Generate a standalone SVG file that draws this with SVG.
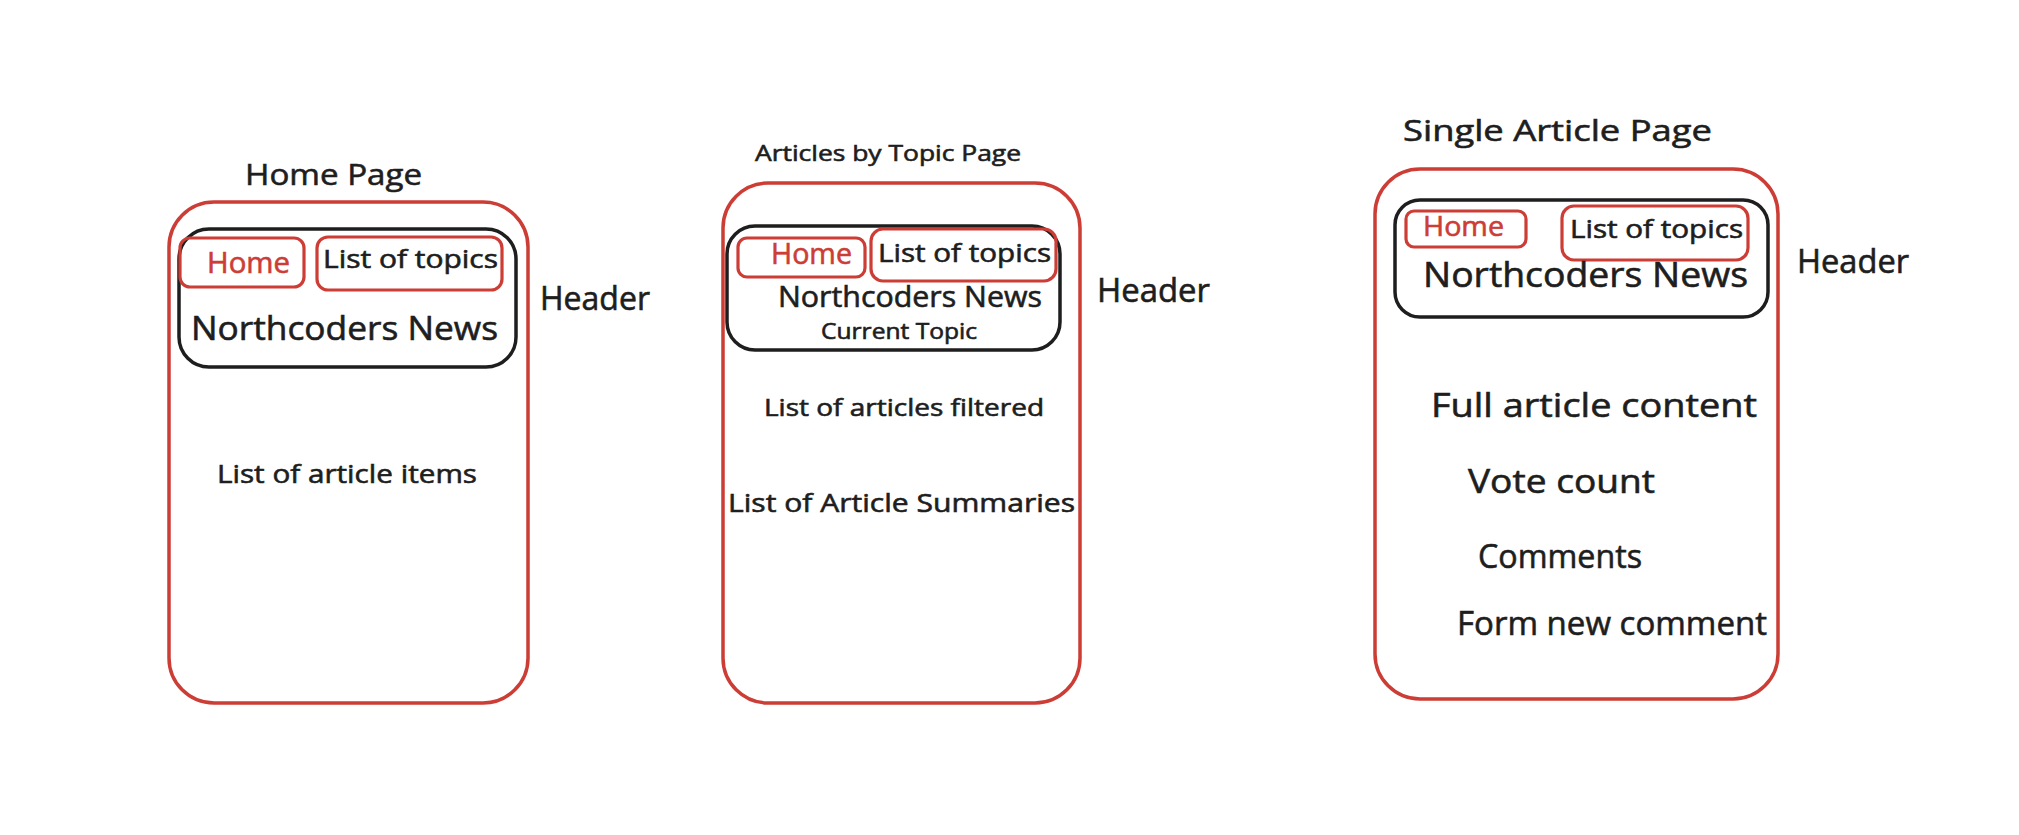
<svg xmlns="http://www.w3.org/2000/svg" width="2019" height="835" viewBox="0 0 2019 835">
  <style>
    .frame { fill: none; stroke: #cc3d36; stroke-width: 3.5; stroke-linejoin: round; }
    .header { fill: none; stroke: #1e1e1e; stroke-width: 3.5; stroke-linejoin: round; }
    .btn { fill: none; stroke: #cc3d36; stroke-width: 3.2; stroke-linejoin: round; }
    text { font-family: "Open Sans", "Liberation Sans", sans-serif; fill: #1e1e1e; stroke: #1e1e1e; stroke-width: 0.6; }
    .red { fill: #cc3d36; stroke: #cc3d36; }
  </style>
  <rect width="2019" height="835" fill="#ffffff"/>

  <!-- Home page wireframe -->
  <g id="home-page">
    <text x="245" y="185" font-size="30" textLength="177" lengthAdjust="spacingAndGlyphs">Home Page</text>
    <rect class="frame" x="169" y="202" width="359" height="501" rx="45"/>
    <g id="home-page-header">
      <rect class="header" x="179" y="229" width="337" height="138" rx="30"/>
      <rect class="btn" x="180" y="238" width="124" height="49" rx="10"/>
      <text class="red" x="207" y="273" font-size="29" textLength="83" lengthAdjust="spacingAndGlyphs">Home</text>
      <rect class="btn" x="317" y="237" width="185" height="53" rx="11"/>
      <text x="323" y="268" font-size="25" textLength="175" lengthAdjust="spacingAndGlyphs">List of topics</text>
      <text x="191" y="340" font-size="33" textLength="307" lengthAdjust="spacingAndGlyphs">Northcoders News</text>
    </g>
    <text x="540" y="310" font-size="32" textLength="110" lengthAdjust="spacingAndGlyphs">Header</text>
    <text x="217" y="483" font-size="26" textLength="260" lengthAdjust="spacingAndGlyphs">List of article items</text>
  </g>

  <!-- Articles by topic wireframe -->
  <g id="topic-page">
    <text x="755" y="161" font-size="22" textLength="266" lengthAdjust="spacingAndGlyphs">Articles by Topic Page</text>
    <rect class="frame" x="723" y="183" width="357" height="520" rx="45"/>
    <g id="topic-page-header">
      <rect class="header" x="727" y="226" width="333" height="124" rx="28"/>
      <rect class="btn" x="738" y="238" width="127" height="39" rx="9"/>
      <text class="red" x="771" y="264" font-size="29" textLength="81" lengthAdjust="spacingAndGlyphs">Home</text>
      <rect class="btn" x="871" y="229" width="185" height="52" rx="12"/>
      <text x="878" y="262" font-size="26" textLength="173" lengthAdjust="spacingAndGlyphs">List of topics</text>
      <text x="778" y="307" font-size="29" textLength="264" lengthAdjust="spacingAndGlyphs">Northcoders News</text>
      <text x="821" y="339" font-size="21" textLength="156" lengthAdjust="spacingAndGlyphs">Current Topic</text>
    </g>
    <text x="1097" y="302" font-size="32" textLength="113" lengthAdjust="spacingAndGlyphs">Header</text>
    <text x="764" y="416" font-size="24" textLength="280" lengthAdjust="spacingAndGlyphs">List of articles filtered</text>
    <text x="728" y="512" font-size="26" textLength="347" lengthAdjust="spacingAndGlyphs">List of Article Summaries</text>
  </g>

  <!-- Single article wireframe -->
  <g id="article-page">
    <text x="1403" y="141" font-size="30" textLength="309" lengthAdjust="spacingAndGlyphs">Single Article Page</text>
    <rect class="frame" x="1375" y="169" width="403" height="530" rx="45"/>
    <g id="article-page-header">
      <rect class="header" x="1395" y="200" width="373" height="117" rx="25"/>
      <rect class="btn" x="1406" y="211" width="120" height="36" rx="8"/>
      <text class="red" x="1423" y="236" font-size="28" textLength="81" lengthAdjust="spacingAndGlyphs">Home</text>
      <rect class="btn" x="1562" y="206" width="186" height="54" rx="12"/>
      <text x="1570" y="238" font-size="25" textLength="173" lengthAdjust="spacingAndGlyphs">List of topics</text>
      <text x="1423" y="287" font-size="34" textLength="325" lengthAdjust="spacingAndGlyphs">Northcoders News</text>
    </g>
    <text x="1797" y="273" font-size="32" textLength="112" lengthAdjust="spacingAndGlyphs">Header</text>
    <text x="1431" y="417" font-size="33" textLength="326" lengthAdjust="spacingAndGlyphs">Full article content</text>
    <text x="1468" y="493" font-size="33" textLength="187" lengthAdjust="spacingAndGlyphs">Vote count</text>
    <text x="1478" y="568" font-size="33" textLength="164" lengthAdjust="spacingAndGlyphs">Comments</text>
    <text x="1457" y="635" font-size="33" textLength="310" lengthAdjust="spacingAndGlyphs">Form new comment</text>
  </g>
</svg>
